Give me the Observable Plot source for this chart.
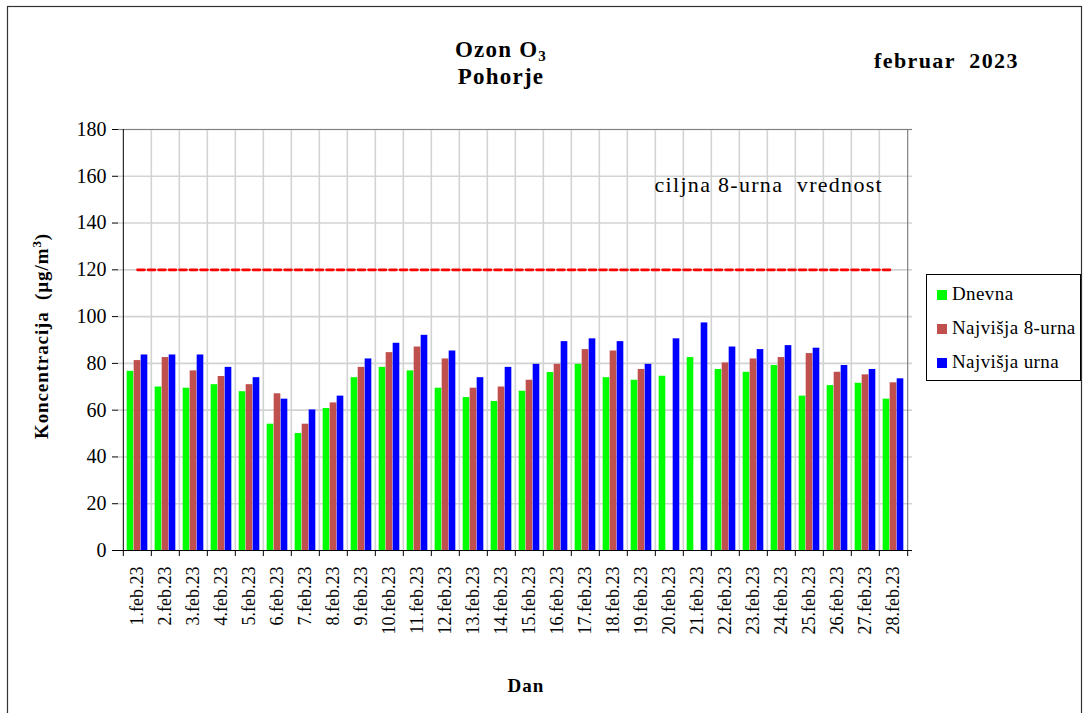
<!DOCTYPE html>
<html><head><meta charset="utf-8">
<script src="https://cdn.jsdelivr.net/npm/d3@7"></script>
<script src="https://cdn.jsdelivr.net/npm/@observablehq/plot@0.6"></script>
<style>
body{margin:0;background:#fff;}
#wrap{position:relative;width:1088px;height:713px;overflow:hidden;background:#fff}
#wrap svg{position:absolute;left:0;top:0}
</style></head><body><div id="wrap"></div>
<script>
const days = ["1.feb.23","2.feb.23","3.feb.23","4.feb.23","5.feb.23","6.feb.23","7.feb.23","8.feb.23","9.feb.23","10.feb.23","11.feb.23","12.feb.23","13.feb.23","14.feb.23","15.feb.23","16.feb.23","17.feb.23","18.feb.23","19.feb.23","20.feb.23","21.feb.23","22.feb.23","23.feb.23","24.feb.23","25.feb.23","26.feb.23","27.feb.23","28.feb.23"];
const dnevna = [76.6,69.9,69.4,70.9,67.9,54.0,50.0,60.7,73.9,78.3,76.8,69.4,65.4,63.7,68.1,76.1,79.6,73.9,72.8,74.5,82.5,77.4,76.2,79.1,66.0,70.5,71.5,64.7];
const najvisja8 = [81.2,82.5,76.8,74.4,70.9,67.0,54.0,63.1,78.3,84.6,87.0,81.9,69.4,69.9,72.8,79.6,85.9,85.3,77.4,null,null,80.2,81.9,82.5,84.2,76.2,75.1,71.7];
const najvisjaUrna = [83.6,83.6,83.6,78.3,73.9,64.7,60.1,66.0,81.9,88.6,92.0,85.3,73.9,78.3,79.6,89.3,90.5,89.3,79.6,90.5,97.3,87.0,85.9,87.6,86.5,79.1,77.4,73.4];
const targetValue = 120;
const yTicks = [0,20,40,60,80,100,120,140,160,180];
const seriesNames = ["Dnevna","Najvišja 8-urna","Najvišja urna"];
const seriesColors = ["#00ff00","#c0504d","#0000ff"];

const W = 1088, H = 713;
const mL = 118, mR = 176, mT = 129, mB = 163;
const step = (W - mL - mR) / days.length;
const barW = 7;
const off = (step - 3 * barW) / 2;
const font = "'Liberation Serif','Times New Roman',serif";

const rows = days.map((d, i) => ({day: d, dnevna: dnevna[i], n8: najvisja8[i], nu: najvisjaUrna[i], target: targetValue}));
const last = days[days.length - 1];

const chart = Plot.plot({
  width: W, height: H,
  marginLeft: mL, marginRight: mR, marginTop: mT, marginBottom: mB,
  style: {fontFamily: font, background: "transparent", color: "#000"},
  x: {domain: days, padding: 0, label: null},
  y: {domain: [0, 180], label: null},
  marks: [
    Plot.ruleY(yTicks.slice(1), {stroke: "#d3d3d3", strokeWidth: 1.6}),
    Plot.ruleX(days.slice(1), {x: d => d, dx: -step / 2, y1: 0, y2: 180, stroke: "#d3d3d3", strokeWidth: 1.6}),
    Plot.barY(rows, {x: "day", y: "dnevna", fill: seriesColors[0], insetLeft: off, insetRight: step - off - barW}),
    Plot.barY(rows.filter(r => r.n8 != null), {x: "day", y: "n8", fill: seriesColors[1], insetLeft: off + barW, insetRight: step - off - 2 * barW}),
    Plot.barY(rows, {x: "day", y: "nu", fill: seriesColors[2], insetLeft: off + 2 * barW, insetRight: off}),
    Plot.lineY(rows, {x: "day", y: "target", stroke: "#ff0000", strokeWidth: 2.6, strokeDasharray: "7,3.5"}),
    Plot.ruleY([180], {stroke: "#808080", strokeWidth: 1.2}),
    Plot.ruleX([last], {dx: step / 2, y1: 0, y2: 180, stroke: "#808080", strokeWidth: 1.2}),
    Plot.ruleX([days[0]], {dx: -step / 2, y1: 0, y2: 180, stroke: "#000"}),
    Plot.ruleY([0], {stroke: "#000"}),
    Plot.ruleX(days, {x: d => d, dx: -step / 2, y1: 0, y2: -2.6, stroke: "#000"}),
    Plot.ruleX([last], {dx: step / 2, y1: 0, y2: -2.6, stroke: "#000"}),
    Plot.axisY({ticks: yTicks, tickSize: 6, tickPadding: 6, fontSize: 20, label: null, letterSpacing: 1}),
    Plot.axisX({tickSize: 0, tickRotate: -90, tickPadding: 16, fontSize: 18, label: null, letterSpacing: 0.8})
  ]
});
document.getElementById("wrap").appendChild(chart);

// annotations overlay
const svg = d3.select("#wrap").append("svg").attr("width", W).attr("height", H)
  .style("font-family", font).style("pointer-events", "none");
svg.append("rect").attr("x", 7.5).attr("y", 6.5).attr("width", 1074).attr("height", H).attr("fill", "none").attr("stroke", "#333").attr("stroke-width", 1.2);

const t1 = svg.append("text").attr("x", 501).attr("y", 57).attr("text-anchor", "middle")
  .attr("font-size", 23).attr("font-weight", "bold").attr("letter-spacing", 1.2);
t1.append("tspan").text("Ozon O");
t1.append("tspan").attr("dy", 4).attr("font-size", 15).text("3");
svg.append("text").attr("x", 501).attr("y", 84).attr("text-anchor", "middle")
  .attr("font-size", 23).attr("font-weight", "bold").attr("letter-spacing", 1.2).text("Pohorje");
svg.append("text").attr("x", 874).attr("y", 68).attr("font-size", 22).attr("font-weight", "bold")
  .attr("letter-spacing", 1.4).style("white-space", "pre").text("februar  2023");
svg.append("text").attr("x", 883).attr("y", 192).attr("text-anchor", "end").attr("font-size", 22)
  .attr("letter-spacing", 1.3).style("white-space", "pre").text("ciljna 8-urna  vrednost");

const yl = svg.append("text").attr("transform", "translate(48,336) rotate(-90)").attr("text-anchor", "middle")
  .attr("font-size", 19).attr("font-weight", "bold").attr("letter-spacing", 0.9).style("white-space", "pre");
yl.append("tspan").text("Koncentracija  (µg/m");
yl.append("tspan").attr("dy", -7).attr("font-size", 13).text("3");
yl.append("tspan").attr("dy", 7).text(")");

svg.append("text").attr("x", 526).attr("y", 692).attr("text-anchor", "middle").attr("font-size", 19)
  .attr("font-weight", "bold").attr("letter-spacing", 1).text("Dan");

// legend
svg.append("rect").attr("x", 926.5).attr("y", 274.5).attr("width", 154).attr("height", 106)
  .attr("fill", "#fff").attr("stroke", "#000");
seriesNames.forEach((name, i) => {
  const y = 290 + i * 34;
  svg.append("rect").attr("x", 937).attr("y", y).attr("width", 10).attr("height", 10).attr("fill", seriesColors[i]);
  svg.append("text").attr("x", 952).attr("y", y + 10).attr("font-size", 19).attr("letter-spacing", 0.4).text(name);
});
</script></body></html>
